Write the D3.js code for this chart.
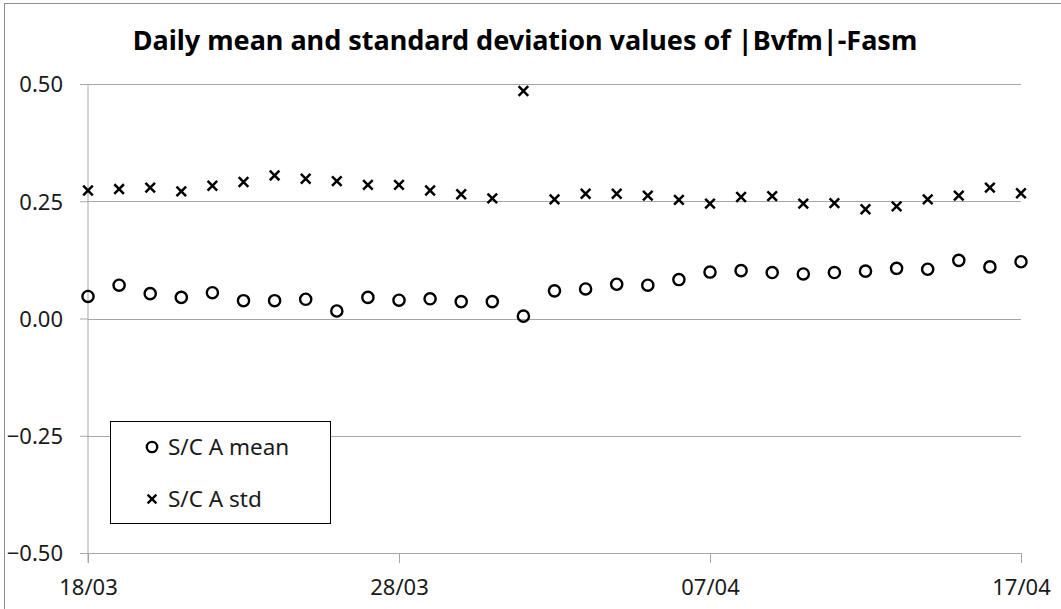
<!DOCTYPE html>
<html><head><meta charset="utf-8">
<script src="https://cdn.jsdelivr.net/npm/d3@7"></script>
<style>
html,body{margin:0;padding:0;background:#fff;}
svg{display:block;}
text{font-family:"Noto Sans","Open Sans",sans-serif;}
</style></head>
<body>
<script>
const dates = ["2016-03-18","2016-03-19","2016-03-20","2016-03-21","2016-03-22","2016-03-23","2016-03-24","2016-03-25","2016-03-26","2016-03-27","2016-03-28","2016-03-29","2016-03-30","2016-03-31","2016-04-01","2016-04-02","2016-04-03","2016-04-04","2016-04-05","2016-04-06","2016-04-07","2016-04-08","2016-04-09","2016-04-10","2016-04-11","2016-04-12","2016-04-13","2016-04-14","2016-04-15","2016-04-16","2016-04-17"];
const meanValues = [0.047,0.071,0.053,0.045,0.055,0.038,0.038,0.041,0.016,0.045,0.039,0.042,0.036,0.036,0.005,0.059,0.063,0.073,0.071,0.083,0.099,0.102,0.098,0.095,0.098,0.101,0.107,0.105,0.124,0.110,0.121];
const stdValues = [0.273,0.276,0.279,0.271,0.283,0.291,0.305,0.298,0.293,0.285,0.285,0.273,0.265,0.256,0.485,0.254,0.266,0.266,0.262,0.253,0.245,0.259,0.261,0.245,0.246,0.233,0.239,0.254,0.262,0.279,0.267];
const yTicks = [-0.5,-0.25,0,0.25,0.5];
const xTickDates = ["2016-03-18","2016-03-28","2016-04-07","2016-04-17"];
const seriesNames = ["S/C A mean","S/C A std"];
const title = "Daily mean and standard deviation values of |Bvfm|-Fasm";

const W = 1061, H = 609;
const parse = d3.utcParse("%Y-%m-%d");
const fmt = d3.utcFormat("%d/%m");
const svg = d3.select("body").append("svg").attr("width", W).attr("height", H);

// outer border
svg.append("rect").attr("x",4.5).attr("y",3.5).attr("width",1060).attr("height",610)
  .attr("fill","none").attr("stroke","#8c8c8c").attr("stroke-width",1);

const x = d3.scaleUtc().domain([parse(dates[0]), parse(dates[dates.length-1])]).range([88, 1021]);
const y = d3.scaleLinear().domain([-0.5, 0.5]).range([553, 84]);

const grid = "#a6a6a6";
const yAxis = d3.axisLeft(y).tickValues(yTicks).tickFormat(d3.format(".2f")).tickSize(8).tickPadding(17);
const gY = svg.append("g").attr("transform","translate(88,0)").call(yAxis);
gY.select(".domain").attr("stroke",grid).attr("d","M0,84V563");
gY.selectAll(".tick line").attr("stroke",grid);
gY.selectAll(".tick text").attr("font-size",22).attr("fill","#1a1a1a").attr("dy","0.36em");
svg.append("g").selectAll("line").data(yTicks).join("line")
  .attr("x1",88).attr("x2",1021).attr("y1",d=>Math.round(y(d))+0.5).attr("y2",d=>Math.round(y(d))+0.5)
  .attr("stroke",grid).attr("stroke-width",1);

const xAxis = d3.axisBottom(x).tickValues(xTickDates.map(parse)).tickFormat(fmt).tickSize(10).tickPadding(16);
const gX = svg.append("g").attr("transform","translate(0,553)").call(xAxis);
gX.select(".domain").remove();
gX.selectAll(".tick line").attr("stroke",grid);
gX.selectAll(".tick text").attr("font-size",22).attr("fill","#1a1a1a");

// title
svg.append("text").attr("x",525).attr("y",50).attr("text-anchor","middle")
  .attr("font-size",27).attr("font-weight","bold").attr("fill","#000").text(title);

// mean circles
svg.append("g").selectAll("circle").data(meanValues).join("circle")
  .attr("cx",(d,i)=>x(parse(dates[i]))).attr("cy",d=>y(d)).attr("r",5.6)
  .attr("fill","none").attr("stroke","#000").attr("stroke-width",2.4);

// std crosses
const s = 4.8;
svg.append("g").selectAll("path").data(stdValues).join("path")
  .attr("transform",(d,i)=>`translate(${x(parse(dates[i]))},${y(d)})`)
  .attr("d",`M${-s},${-s}L${s},${s}M${-s},${s}L${s},${-s}`)
  .attr("stroke","#000").attr("stroke-width",2.5).attr("fill","none");

// legend
const lg = svg.append("g");
lg.append("rect").attr("x",110.5).attr("y",421.5).attr("width",220).attr("height",102)
  .attr("fill","#fff").attr("stroke","#000").attr("stroke-width",1);
lg.append("circle").attr("cx",152).attr("cy",447).attr("r",5.2)
  .attr("fill","none").attr("stroke","#000").attr("stroke-width",2.3);
lg.append("path").attr("transform","translate(152,499)")
  .attr("d","M-4.4,-4.4L4.4,4.4M-4.4,4.4L4.4,-4.4").attr("stroke","#000").attr("stroke-width",2.3);
lg.selectAll("text").data(seriesNames).join("text")
  .attr("x",168).attr("y",(d,i)=>455+i*52).attr("font-size",22.5).attr("fill","#1a1a1a").text(d=>d);
</script>
</body></html>
